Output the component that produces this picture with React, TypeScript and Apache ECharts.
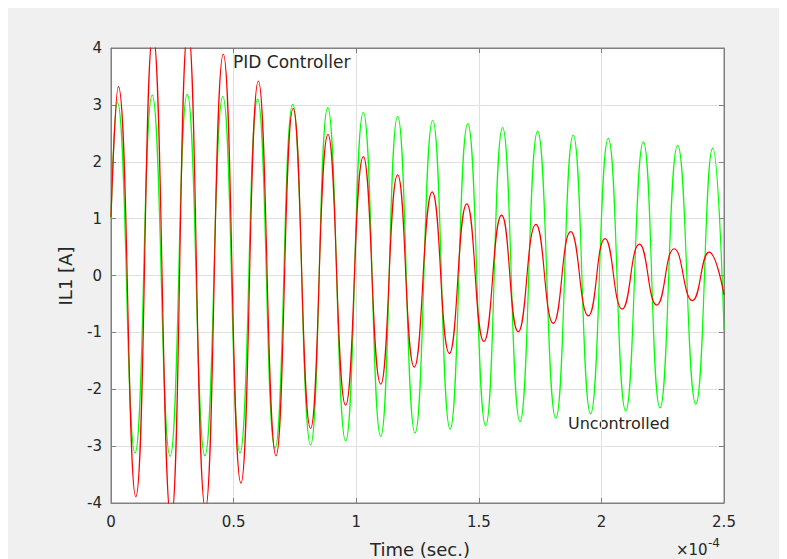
import React, { useEffect, useRef } from "react";
import * as echarts from "echarts";

// Time axis values are in units of 1e-4 s
const xTicks = [0, 0.5, 1, 1.5, 2, 2.5];
const yTicks = [-4, -3, -2, -1, 0, 1, 2, 3, 4];

// Uncontrolled (green): extrema
const greenTime = [
  0, 0.026, 0.098, 0.168, 0.241, 0.311, 0.383, 0.456, 0.526, 0.598, 0.669, 0.741,
  0.814, 0.884, 0.957, 1.029, 1.1, 1.169, 1.24, 1.312, 1.383, 1.455, 1.528, 1.597,
  1.668, 1.74, 1.814, 1.885, 1.956, 2.028, 2.099, 2.171, 2.239, 2.311, 2.385, 2.454, 2.5,
];
const greenValue = [
  1.0, 3.05, -3.12, 3.17, -3.18, 3.19, -3.17, 3.15, -3.12, 3.1, -3.04, 3.01,
  -2.98, 2.95, -2.91, 2.87, -2.83, 2.8, -2.77, 2.73, -2.7, 2.67, -2.64, 2.6,
  -2.57, 2.54, -2.51, 2.47, -2.43, 2.41, -2.38, 2.35, -2.33, 2.29, -2.26, 2.24, -0.96,
];

// PID Controller (red): extrema
const redTime = [
  0, 0.03, 0.101, 0.171, 0.245, 0.314, 0.385, 0.458, 0.53, 0.601, 0.673, 0.743,
  0.814, 0.885, 0.957, 1.029, 1.1, 1.169, 1.237, 1.31, 1.38, 1.451, 1.521, 1.593,
  1.661, 1.733, 1.804, 1.875, 1.947, 2.015, 2.085, 2.155, 2.226, 2.297, 2.371, 2.439, 2.5,
];
const redValue = [
  1.03, 3.32, -3.89, 4.25, -4.3, 4.35, -4.1, 3.89, -3.65, 3.42, -3.17, 2.94,
  -2.69, 2.48, -2.28, 2.09, -1.91, 1.77, -1.61, 1.47, -1.37, 1.26, -1.16, 1.06,
  -0.99, 0.9, -0.84, 0.77, -0.71, 0.65, -0.59, 0.55, -0.52, 0.47, -0.44, 0.41, -0.34,
];

const FONT = "'DejaVu Sans', 'Liberation Sans', Arial, sans-serif";
const TEXT = "#262626";
const AXIS = "#808080";

export default function App() {
  const ref = useRef<HTMLDivElement>(null);

  useEffect(() => {
    if (!ref.current) return;
    const chart = echarts.init(ref.current, undefined, { renderer: "svg" });
    const greenData = greenTime.map((t, i) => [t, greenValue[i]]);
    const redData = redTime.map((t, i) => [t, redValue[i]]);

    const axisCommon = {
      type: "value" as const,
      axisLine: { show: true, onZero: false, lineStyle: { color: AXIS, width: 1 } },
      axisTick: { show: true, inside: true, length: 5, lineStyle: { color: AXIS } },
    };

    chart.setOption({
      animation: false,
      backgroundColor: "#f0f0f0",
      grid: {
        left: 103,
        right: 63,
        top: 40,
        bottom: 56,
        show: true,
        backgroundColor: "#ffffff",
        borderColor: AXIS,
        borderWidth: 1,
      },
      xAxis: [
        {
          ...axisCommon,
          min: xTicks[0],
          max: xTicks[xTicks.length - 1],
          interval: 0.5,
          position: "bottom",
          axisLabel: {
            show: true,
            color: TEXT,
            fontSize: 15,
            fontFamily: FONT,
            margin: 11,
            showMinLabel: true,
            showMaxLabel: true,
          },
          splitLine: { show: true, lineStyle: { color: "#e0e0e0", width: 1 } },
        },
        {
          ...axisCommon,
          min: xTicks[0],
          max: xTicks[xTicks.length - 1],
          interval: 0.5,
          position: "top",
          axisLabel: { show: false },
          splitLine: { show: false },
        },
      ],
      yAxis: [
        {
          ...axisCommon,
          min: yTicks[0],
          max: yTicks[yTicks.length - 1],
          interval: 1,
          position: "left",
          axisLabel: {
            show: true,
            color: TEXT,
            fontSize: 15,
            fontFamily: FONT,
            margin: 9,
            showMinLabel: true,
            showMaxLabel: true,
          },
          splitLine: { show: true, lineStyle: { color: "#e0e0e0", width: 1 } },
        },
        {
          ...axisCommon,
          min: yTicks[0],
          max: yTicks[yTicks.length - 1],
          interval: 1,
          position: "right",
          axisLabel: { show: false },
          splitLine: { show: false },
        },
      ],
      series: [
        {
          name: "Uncontrolled",
          type: "line",
          data: greenData,
          xAxisIndex: 0,
          yAxisIndex: 0,
          smooth: true,
          showSymbol: false,
          clip: true,
          lineStyle: { color: "#00ff00", width: 1.2 },
          itemStyle: { color: "#00ff00" },
        },
        {
          name: "PID Controller",
          type: "line",
          data: redData,
          xAxisIndex: 0,
          yAxisIndex: 0,
          smooth: true,
          showSymbol: false,
          clip: true,
          lineStyle: { color: "#ff0000", width: 1.2 },
          itemStyle: { color: "#ff0000" },
        },
      ],
      graphic: [
        {
          type: "text",
          left: 225,
          top: 45,
          style: { text: "PID Controller", fill: TEXT, font: `17px ${FONT}` },
        },
        {
          type: "text",
          left: 560,
          top: 407,
          style: { text: "Uncontrolled", fill: TEXT, font: `16px ${FONT}` },
        },
        {
          type: "text",
          x: 412,
          y: 541,
          style: {
            text: "Time (sec.)",
            fill: TEXT,
            font: `18px ${FONT}`,
            textAlign: "center",
            textVerticalAlign: "middle",
          },
        },
        {
          type: "text",
          x: 57,
          y: 268,
          rotation: Math.PI / 2,
          style: {
            text: "IL1 [A]",
            fill: TEXT,
            font: `18px ${FONT}`,
            textAlign: "center",
            textVerticalAlign: "middle",
          },
        },
        {
          type: "text",
          x: 668,
          y: 542,
          style: {
            text: "×10",
            fill: TEXT,
            font: `15px ${FONT}`,
            textAlign: "left",
            textVerticalAlign: "middle",
          },
        },
        {
          type: "text",
          x: 700,
          y: 535,
          style: {
            text: "-4",
            fill: TEXT,
            font: `12px ${FONT}`,
            textAlign: "left",
            textVerticalAlign: "middle",
          },
        },
      ],
    });

    return () => chart.dispose();
  }, []);

  return (
    <div
      ref={ref}
      style={{ width: 779, height: 551, background: "#f0f0f0", overflow: "hidden" }}
    />
  );
}
